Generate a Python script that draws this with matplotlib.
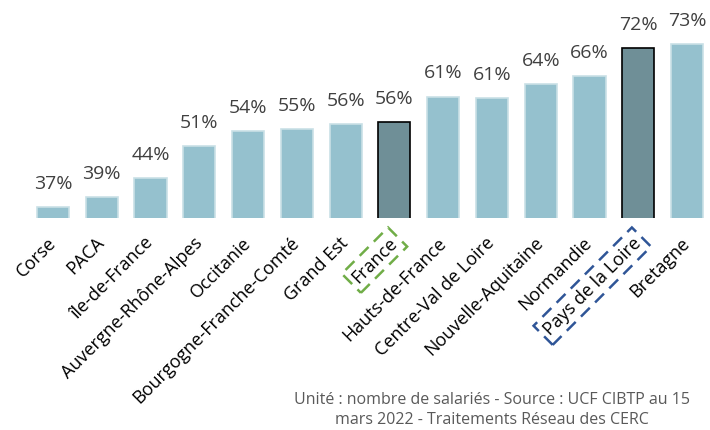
import matplotlib
matplotlib.use("Agg")
import matplotlib.pyplot as plt

plt.rcParams['font.family'] = ['Open Sans', 'DejaVu Sans']

regions = ["Corse", "PACA", "île-de-France", "Auvergne-Rhône-Alpes", "Occitanie",
           "Bourgogne-Franche-Comté", "Grand Est", "France", "Hauts-de-France",
           "Centre-Val de Loire", "Nouvelle-Aquitaine", "Normandie",
           "Pays de la Loire", "Bretagne"]
# bar heights (%)
values = [37.0, 39.1, 43.4, 50.5, 53.8, 54.3, 55.4, 55.7, 61.4, 61.1, 64.2, 66.0, 72.1, 73.0]
# labels as printed above the bars
labels = ["37%", "39%", "44%", "51%", "54%", "55%", "56%", "56%", "61%", "61%",
          "64%", "66%", "72%", "73%"]
highlight = ["France", "Pays de la Loire"]

light = "#95C1CE"
dark = "#6F8F97"

fig = plt.figure(figsize=(7.1, 4.3), dpi=100)
# axes spans from the bar baseline (y=218px) to the top of the figure
ax = fig.add_axes([0, (430 - 218) / 430, 1, 218 / 430])

x = list(range(len(regions)))
colors = [dark if r in highlight else light for r in regions]
edges = ["black" if r in highlight else "#C9E0E6" for r in regions]
ax.bar(x, values, width=0.66, color=colors, edgecolor=edges, linewidth=1.2)

for xi, v, lab in zip(x, values, labels):
    ax.annotate(lab, (xi, v), xytext=(0, 13), textcoords="offset points",
                ha="center", va="baseline", fontsize=14, color="#404040")

ax.set_xlim(-53 / 48.77, (710 - 53) / 48.77)
ax.set_ylim(34.57, 34.57 + 218 / 4.528)

ax.set_xticks(x)
ax.set_xticklabels(regions, rotation=45, ha="right", va="center",
                   rotation_mode="anchor", fontsize=13, color="black")
ax.tick_params(axis="x", length=0, pad=16)
ax.set_yticks([])
for s in ax.spines.values():
    s.set_visible(False)

for lab in ax.get_xticklabels():
    if lab.get_text() == "France":
        lab.set_bbox(dict(boxstyle="square,pad=0.25", fc="none", ec="#70AD47",
                          ls=(0, (5, 3)), lw=1.8))
    elif lab.get_text() == "Pays de la Loire":
        lab.set_bbox(dict(boxstyle="square,pad=0.25", fc="none", ec="#2F5597",
                          ls=(0, (5, 3)), lw=1.8))

fig.text(492 / 710, 1 - 410 / 430,
         "Unité : nombre de salariés - Source : UCF CIBTP au 15\nmars 2022 - Traitements Réseau des CERC",
         ha="center", va="center", fontsize=11.5, color="#595959", linespacing=1.35)

fig.savefig("out.png", dpi=100)
